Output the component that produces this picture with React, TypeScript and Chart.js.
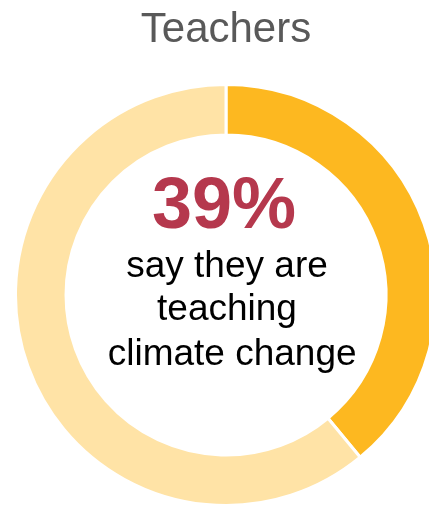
import React, { useEffect, useRef } from "react";
import { Chart, registerables } from "chart.js";

Chart.register(...registerables);

const title = "Teachers";
const categories = ["Teaching climate change", "Not teaching"];
const values = [39, 61];
const colors = ["#FDB820", "#FFE3A6"];
const headline = "39%";
const captionLines = ["say they are", "teaching", " climate change"];

const textPlugin = {
  id: "centerText",
  afterDraw(chart: any) {
    const ctx = chart.ctx;
    const meta = chart.getDatasetMeta(0);
    const arc = meta.data[0];
    const cx = arc.x;
    const cy = arc.y;
    ctx.save();
    ctx.textAlign = "center";
    ctx.textBaseline = "alphabetic";
    ctx.fillStyle = "#595959";
    ctx.font = "42px 'Liberation Sans', Arial, sans-serif";
    ctx.fillText(title, cx, 42);
    ctx.fillStyle = "#B5384D";
    ctx.font = "bold 72px 'Liberation Sans', Arial, sans-serif";
    ctx.fillText(headline, cx - 2, cy - 67);
    ctx.fillStyle = "#000000";
    ctx.font = "37px 'Liberation Sans', Arial, sans-serif";
    const baselines = [-18, 25, 70];
    captionLines.forEach((line, i) => {
      ctx.fillText(line, cx + 1, cy + baselines[i]);
    });
    ctx.restore();
  },
};

export default function App() {
  const ref = useRef<HTMLCanvasElement>(null);
  useEffect(() => {
    const canvas = ref.current!;
    const chart = new Chart(canvas, {
      type: "doughnut",
      data: {
        labels: categories,
        datasets: [
          {
            data: values,
            backgroundColor: colors,
            borderColor: "#ffffff",
            borderWidth: 3,
            hoverOffset: 0,
          },
        ],
      },
      options: {
        responsive: false,
        animation: false,
        cutout: "76%",
        layout: { padding: { top: 83, left: 0, right: 0, bottom: 0 } },
        plugins: {
          legend: { display: false },
          tooltip: { enabled: false },
          title: { display: false },
        },
      },
      plugins: [textPlugin],
    });
    return () => chart.destroy();
  }, []);
  return (
    <div style={{ position: "fixed", left: 0, top: 0, width: 429, height: 505, overflow: "hidden", background: "#fff" }}>
      <canvas ref={ref} width={452} height={507} style={{ display: "block" }} />
    </div>
  );
}
